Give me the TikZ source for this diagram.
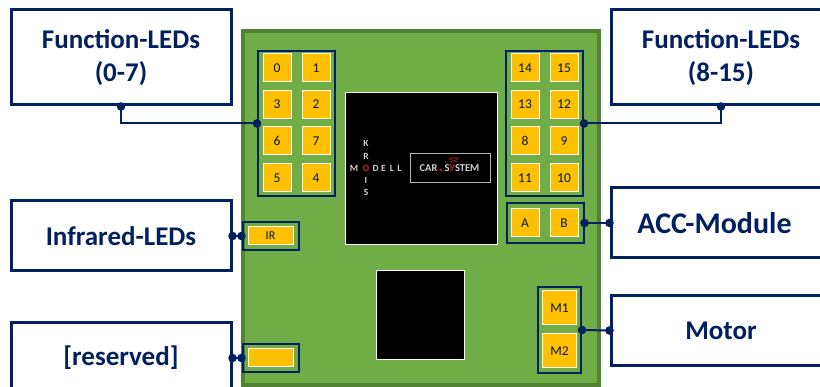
\documentclass[tikz,border=0pt]{standalone}
\usepackage{fontspec}
\setmainfont{Carlito}
\usepackage{xcolor}
\definecolor{navy}{HTML}{002060}
\definecolor{pcbgreen}{HTML}{70AD47}
\definecolor{pcbedge}{HTML}{548235}
\definecolor{padyellow}{HTML}{FFC000}
\definecolor{logored}{HTML}{D81E1E}
\tikzset{
  labelbox/.style={draw=navy,line width=3pt,fill=white,text=navy,align=center,
    font=\bfseries\fontsize{27}{33}\selectfont,inner sep=0pt},
  pad/.style={draw=white,line width=1pt,fill=padyellow,text=navy!70!black,inner sep=0pt,
    minimum width=28pt,minimum height=28pt,font=\fontsize{13.5}{15}\selectfont},
  group/.style={draw=navy,line width=2pt,inner sep=0pt},
  chip/.style={draw=white,line width=.8pt,fill=black,inner sep=0pt},
  logotext/.style={text=white!82!black,inner sep=0pt,font=\bfseries\fontsize{9.5}{10}\selectfont},
  wire/.style={draw=navy,line width=2pt},
  dot/.style={fill=navy}
}
\begin{document}
\begin{tikzpicture}[x=1pt,y=-1pt]
\useasboundingbox (0,0) rectangle (820,387);
\clip (0,0) rectangle (820,387);
% board and chips
\node[draw=pcbedge,line width=3.6pt,fill=pcbgreen,minimum width=356pt,minimum height=354pt,inner sep=0pt] (board) at (421,208) {};
\node[chip,minimum width=152pt,minimum height=152pt] (chipa) at (421,168) {};
\node[chip,minimum width=88pt,minimum height=89pt] (chipb) at (420.5,314.5) {};
% logo
\foreach \nme/\ltr/\px/\py in {k/K/366/143,r/R/366/156,i/I/366/180,s/S/366/192,m/M/354/168,d/D/375.5/168,e/E/383.5/168,l/L/392/168,ll/L/399.5/168}
  \node[logotext] (logo\nme) at (\px,\py) {\ltr};
\node[logotext,text=logored] (logoo) at (366,168) {O};
\node[draw=white!70!black,line width=.8pt,minimum width=80pt,minimum height=29pt,inner sep=0pt] (carbox) at (450,167.5) {};
\node[logotext,font=\bfseries\fontsize{10.5}{11}\selectfont] (cartext) at (449.5,168) {CAR\,\textcolor{logored}{\tiny$\bullet$}\,S\textcolor{logored}{Y}STEM};
\draw[logored,line width=.8pt] (451,162) arc (200:340:3 and 2.2);
\draw[logored,line width=.8pt] (449,159.5) arc (200:340:5 and 2.6);
% pads left
\foreach \nme/\px/\py in {0/277/68,1/316/68,3/277/104.5,2/316/104.5,6/277/141,7/316/141,5/277/178,4/316/178,
  14/525/68,15/564/68,13/525/104.5,12/564/104.5,8/525/141,9/564/141,11/525/178,10/564/178,A/525/223,B/564/223}
  \node[pad] (pad\nme) at (\px,\py) {\nme};
\node[pad,minimum width=34pt,minimum height=34pt] (padM1) at (559.5,308) {M1};
\node[pad,minimum width=34pt,minimum height=34pt] (padM2) at (559.5,351) {M2};
\node[pad,minimum width=45pt,minimum height=18pt,font=\fontsize{12}{13}\selectfont] (padIR) at (270.5,236) {IR};
\node[pad,minimum width=45pt,minimum height=18pt] (padres) at (270.5,358) {};
% groups
\node[group,minimum width=77pt,minimum height=145pt] (grpleft) at (296.5,123.5) {};
\node[group,minimum width=77pt,minimum height=145pt] (grpright) at (544.5,123.5) {};
\node[group,minimum width=77pt,minimum height=40pt] (grpacc) at (545,223) {};
\node[group,minimum width=43pt,minimum height=86pt] (grpmotor) at (559.5,330) {};
\node[group,minimum width=56pt,minimum height=28pt] (grpir) at (270.5,236) {};
\node[group,minimum width=56pt,minimum height=28pt] (grpres) at (270.5,358) {};
% labels
\node[labelbox,minimum width=220pt,minimum height=95pt] (fnleft) at (121,57.5) {Function-LEDs\\(0-7)};
\node[labelbox,minimum width=220pt,minimum height=95pt] (fnright) at (721,57.5) {Function-LEDs\\(8-15)};
\node[labelbox,minimum width=220pt,minimum height=70pt] (irbox) at (121,236) {Infrared-LEDs};
\node[labelbox,minimum width=220pt,minimum height=70pt] (resbox) at (121,358) {[reserved]};
\node[labelbox,minimum width=220pt,minimum height=70pt,font=\bfseries\fontsize{30}{33}\selectfont] (accbox) at (721,223) {ACC-Module\hspace*{13pt}};
\node[labelbox,minimum width=220pt,minimum height=70pt] (motorbox) at (721,330.5) {Motor};
% connectors
\draw[wire] (fnleft.south) |- (grpleft.west);
\draw[wire] (fnright.south) |- (grpright.east);
\draw[wire] (irbox.east) -- (grpir.west);
\draw[wire] (resbox.east) -- (grpres.west);
\draw[wire] (accbox.west) -- (grpacc.east);
\draw[wire] (motorbox.west) -- (grpmotor.east);
\foreach \anch in {fnleft.south,grpleft.west,fnright.south,grpright.east,irbox.east,grpir.west,resbox.east,grpres.west,accbox.west,grpacc.east,motorbox.west,grpmotor.east}
  \fill[dot] (\anch) circle (4.3);
\end{tikzpicture}
\end{document}
